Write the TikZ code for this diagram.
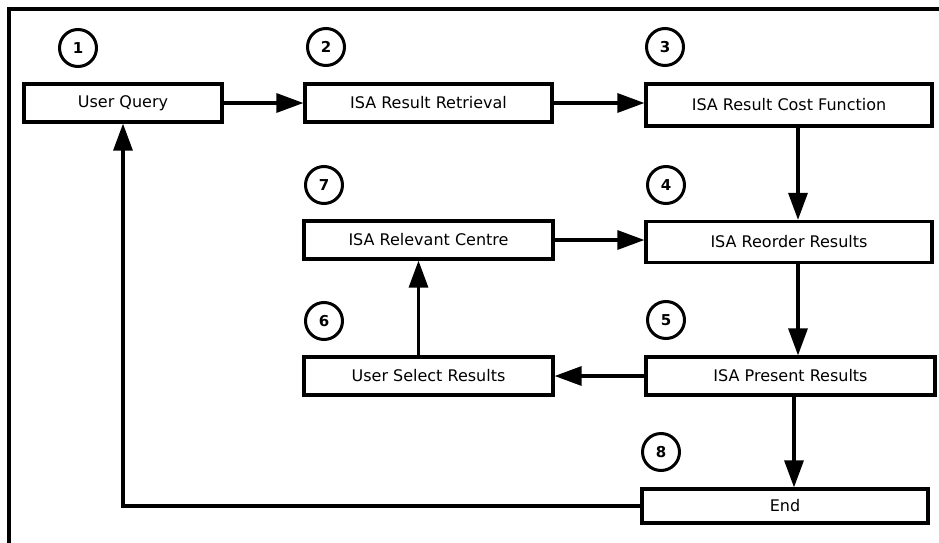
\documentclass[tikz,border=0pt]{standalone}
\usepackage{fontspec}
\setmainfont{DejaVu Sans}
\usetikzlibrary{arrows.meta}

\begin{document}
\begin{tikzpicture}[
    x=1pt, y=-1pt,
    stepbox/.style={rectangle, draw, line width=3.2pt, inner sep=0pt, font=\fontsize{16}{19}\selectfont},
    num/.style={circle, draw, line width=3pt, minimum size=37pt, inner sep=0pt, font=\fontsize{15}{17}\selectfont\bfseries},
    flow/.style={line width=3.2pt, -{Triangle[length=27pt, width=19pt]}}
]
\useasboundingbox (0,0) rectangle (939,543);

% Frame
\draw[line width=3.2pt] (9,543) -- (9,9) -- (939,9);

% Process steps
\node[stepbox, minimum width=198pt, minimum height=38pt] (query) at (123,103) {User Query};
\node[stepbox, minimum width=247pt, minimum height=38pt] (retrieval) at (428.5,103) {ISA Result Retrieval};
\node[stepbox, minimum width=286pt, minimum height=42pt] (cost) at (789,105) {ISA Result Cost Function};
\node[stepbox, minimum width=286pt, minimum height=41pt] (reorder) at (789,242) {ISA Reorder Results};
\node[stepbox, minimum width=249pt, minimum height=38pt] (relevant) at (428.5,240) {ISA Relevant Centre};
\node[stepbox, minimum width=249pt, minimum height=38pt] (select) at (428.5,376) {User Select Results};
\node[stepbox, minimum width=289pt, minimum height=38pt] (present) at (790.5,376) {ISA Present Results};
\node[stepbox, minimum width=286pt, minimum height=34pt] (end) at (785,506) {End};

% Step numbers
\node[num] (n1) at (78,48) {1};
\node[num] (n2) at (326,47) {2};
\node[num] (n3) at (665,47) {3};
\node[num] (n4) at (666,185) {4};
\node[num] (n5) at (666,320) {5};
\node[num] (n6) at (324,321) {6};
\node[num] (n7) at (324,185) {7};
\node[num] (n8) at (661,452) {8};

% Connectors
\draw[flow] (query.east) -- (retrieval.west);
\draw[flow] (retrieval.east) -- (retrieval.east -| cost.west);
\draw[flow] ([xshift=9pt]cost.south) -- ([xshift=9pt]cost.south |- reorder.north);
\draw[flow] ([xshift=9pt]reorder.south) -- ([xshift=9pt]reorder.south |- present.north);
\draw[flow] (present.west) -- (select.east);
\draw[flow] ([xshift=-10pt]select.north) -- ([xshift=-10pt]relevant.south);
\draw[flow] (relevant.east) -- (relevant.east -| reorder.west);
\draw[flow] ([xshift=3.5pt]present.south) -- ([xshift=3.5pt]present.south |- end.north);
\draw[flow] (end.west) -- (end.west -| query.south) -- (query.south);
\end{tikzpicture}
\end{document}
